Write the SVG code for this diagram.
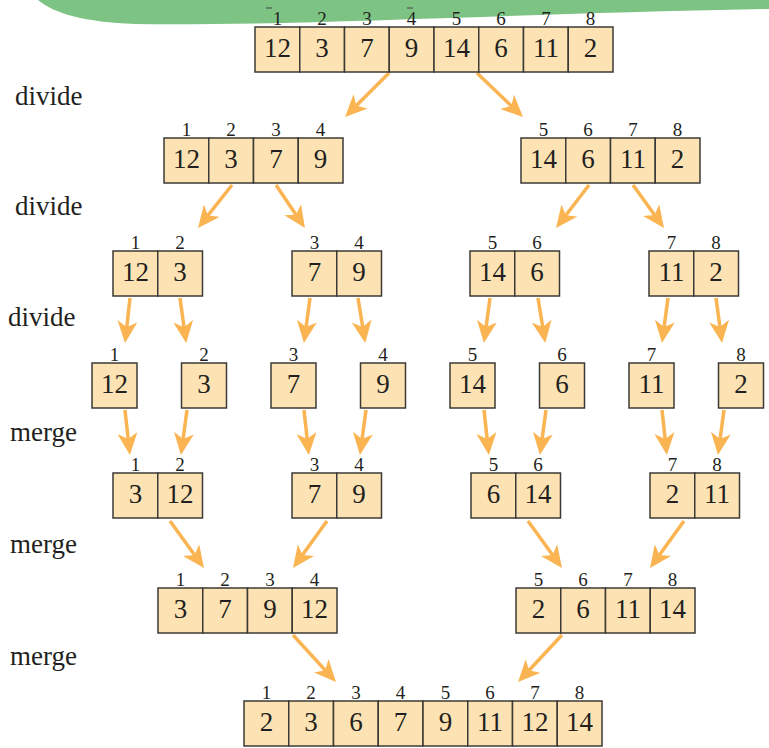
<svg xmlns="http://www.w3.org/2000/svg" width="769" height="748" viewBox="0 0 769 748" font-family="Liberation Serif, DejaVu Serif, Times New Roman, serif">
<style>
.c{fill:#fde3b3;stroke:#3b3a36;stroke-width:1.5}
text{fill:#231f20}
.n{font-size:27px;text-anchor:middle}
.i{font-size:19px;text-anchor:middle}
.s{font-size:27px}
.a{stroke:#fbb452;stroke-width:3.5;fill:none;marker-end:url(#ah)}
</style>
<defs>
<marker id="ah" markerUnits="userSpaceOnUse" markerWidth="22" markerHeight="20" viewBox="0 0 22 20" refX="14" refY="10" orient="auto">
<path d="M0,0 L22,10 L0,20 L6,10 Z" fill="#fbb452"/>
</marker>
</defs>
<rect width="769" height="748" fill="#ffffff"/>
<path d="M38,0 C55,14 85,22 135,24 C300,26 500,14 769,9 L769,0 Z" fill="#7dc383"/>
<line x1="266" y1="8" x2="272" y2="8" stroke="#555" stroke-width="1.2"/>
<line x1="407" y1="8" x2="413" y2="8" stroke="#555" stroke-width="1.2"/>

<g id="labels">
<text class="s" x="15" y="105">divide</text>
<text class="s" x="15" y="215">divide</text>
<text class="s" x="8" y="326">divide</text>
<text class="s" x="10" y="441">merge</text>
<text class="s" x="10" y="553">merge</text>
<text class="s" x="10" y="665">merge</text>
</g>

<g id="connectors">
<line class="a" x1="389" y1="73" x2="350.7" y2="111.3"/>
<line class="a" x1="477" y1="73" x2="517.2" y2="111.5"/>
<line class="a" x1="232" y1="185" x2="203" y2="221.7"/>
<line class="a" x1="276" y1="185" x2="300.5" y2="221.4"/>
<line class="a" x1="589" y1="185" x2="560.9" y2="221.7"/>
<line class="a" x1="633" y1="185" x2="659.3" y2="221.5"/>
<line class="a" x1="130" y1="298" x2="125.9" y2="335.1"/>
<line class="a" x1="180" y1="298" x2="185.1" y2="335.1"/>
<line class="a" x1="310" y1="298" x2="305" y2="335"/>
<line class="a" x1="358" y1="298" x2="364" y2="335"/>
<line class="a" x1="490" y1="298" x2="485" y2="335"/>
<line class="a" x1="538" y1="298" x2="544" y2="335"/>
<line class="a" x1="668" y1="298" x2="663" y2="335"/>
<line class="a" x1="716" y1="298" x2="721" y2="335"/>
<line class="a" x1="125" y1="410" x2="129" y2="447"/>
<line class="a" x1="187" y1="410" x2="182" y2="447"/>
<line class="a" x1="304" y1="410" x2="308" y2="447"/>
<line class="a" x1="366" y1="410" x2="361" y2="447"/>
<line class="a" x1="484" y1="410" x2="488" y2="447"/>
<line class="a" x1="546" y1="410" x2="541" y2="447"/>
<line class="a" x1="662" y1="410" x2="666" y2="447"/>
<line class="a" x1="724" y1="410" x2="719" y2="447"/>
<line class="a" x1="170" y1="521" x2="199.3" y2="561.5"/>
<line class="a" x1="327" y1="521" x2="297.7" y2="561.5"/>
<line class="a" x1="528" y1="521" x2="557.3" y2="561.5"/>
<line class="a" x1="684" y1="521" x2="654.7" y2="561.5"/>
<line class="a" x1="293" y1="635" x2="330.6" y2="676.1"/>
<line class="a" x1="562" y1="635" x2="523.5" y2="676.2"/>
</g>

<g id="row0">
<rect class="c" x="255" y="27" width="44.75" height="45"/><rect class="c" x="299.75" y="27" width="44.75" height="45"/><rect class="c" x="344.5" y="27" width="44.75" height="45"/><rect class="c" x="389.25" y="27" width="44.75" height="45"/><rect class="c" x="434" y="27" width="44.75" height="45"/><rect class="c" x="478.75" y="27" width="44.75" height="45"/><rect class="c" x="523.5" y="27" width="44.75" height="45"/><rect class="c" x="568.25" y="27" width="44.75" height="45"/>
<text class="n" x="277.4" y="56.5">12</text><text class="n" x="322.1" y="56.5">3</text><text class="n" x="366.9" y="56.5">7</text><text class="n" x="411.6" y="56.5">9</text><text class="n" x="456.4" y="56.5">14</text><text class="n" x="501.1" y="56.5">6</text><text class="n" x="545.9" y="56.5">11</text><text class="n" x="590.6" y="56.5">2</text>
<text class="i" x="277.4" y="25">1</text><text class="i" x="322.1" y="25">2</text><text class="i" x="366.9" y="25">3</text><text class="i" x="411.6" y="25">4</text><text class="i" x="456.4" y="25">5</text><text class="i" x="501.1" y="25">6</text><text class="i" x="545.9" y="25">7</text><text class="i" x="590.6" y="25">8</text>
</g>

<g id="row1-left">
<rect class="c" x="164" y="138" width="44.75" height="45"/><rect class="c" x="208.75" y="138" width="44.75" height="45"/><rect class="c" x="253.5" y="138" width="44.75" height="45"/><rect class="c" x="298.25" y="138" width="44.75" height="45"/>
<text class="n" x="186.4" y="167.5">12</text><text class="n" x="231.1" y="167.5">3</text><text class="n" x="275.9" y="167.5">7</text><text class="n" x="320.6" y="167.5">9</text>
<text class="i" x="186.4" y="136">1</text><text class="i" x="231.1" y="136">2</text><text class="i" x="275.9" y="136">3</text><text class="i" x="320.6" y="136">4</text>
</g>
<g id="row1-right">
<rect class="c" x="521" y="138" width="44.75" height="45"/><rect class="c" x="565.75" y="138" width="44.75" height="45"/><rect class="c" x="610.5" y="138" width="44.75" height="45"/><rect class="c" x="655.25" y="138" width="44.75" height="45"/>
<text class="n" x="543.4" y="167.5">14</text><text class="n" x="588.1" y="167.5">6</text><text class="n" x="632.9" y="167.5">11</text><text class="n" x="677.6" y="167.5">2</text>
<text class="i" x="543.4" y="136">5</text><text class="i" x="588.1" y="136">6</text><text class="i" x="632.9" y="136">7</text><text class="i" x="677.6" y="136">8</text>
</g>

<g id="row2-a">
<rect class="c" x="113" y="251" width="44.75" height="45"/><rect class="c" x="157.75" y="251" width="44.75" height="45"/>
<text class="n" x="135.4" y="280.5">12</text><text class="n" x="180.1" y="280.5">3</text>
<text class="i" x="135.4" y="249">1</text><text class="i" x="180.1" y="249">2</text>
</g>
<g id="row2-b">
<rect class="c" x="292" y="251" width="44.75" height="45"/><rect class="c" x="336.75" y="251" width="44.75" height="45"/>
<text class="n" x="314.4" y="280.5">7</text><text class="n" x="359.1" y="280.5">9</text>
<text class="i" x="314.4" y="249">3</text><text class="i" x="359.1" y="249">4</text>
</g>
<g id="row2-c">
<rect class="c" x="470" y="251" width="44.75" height="45"/><rect class="c" x="514.75" y="251" width="44.75" height="45"/>
<text class="n" x="492.4" y="280.5">14</text><text class="n" x="537.1" y="280.5">6</text>
<text class="i" x="492.4" y="249">5</text><text class="i" x="537.1" y="249">6</text>
</g>
<g id="row2-d">
<rect class="c" x="649" y="251" width="44.75" height="45"/><rect class="c" x="693.75" y="251" width="44.75" height="45"/>
<text class="n" x="671.4" y="280.5">11</text><text class="n" x="716.1" y="280.5">2</text>
<text class="i" x="671.4" y="249">7</text><text class="i" x="716.1" y="249">8</text>
</g>

<g id="row3-1"><rect class="c" x="92" y="363" width="45" height="45"/><text class="n" x="114.5" y="392.5">12</text><text class="i" x="114.5" y="361">1</text></g>
<g id="row3-2"><rect class="c" x="181.5" y="363" width="45" height="45"/><text class="n" x="204" y="392.5">3</text><text class="i" x="204" y="361">2</text></g>
<g id="row3-3"><rect class="c" x="271" y="363" width="45" height="45"/><text class="n" x="293.5" y="392.5">7</text><text class="i" x="293.5" y="361">3</text></g>
<g id="row3-4"><rect class="c" x="360.5" y="363" width="45" height="45"/><text class="n" x="383" y="392.5">9</text><text class="i" x="383" y="361">4</text></g>
<g id="row3-5"><rect class="c" x="450" y="363" width="45" height="45"/><text class="n" x="472.5" y="392.5">14</text><text class="i" x="472.5" y="361">5</text></g>
<g id="row3-6"><rect class="c" x="539.5" y="363" width="45" height="45"/><text class="n" x="562" y="392.5">6</text><text class="i" x="562" y="361">6</text></g>
<g id="row3-7"><rect class="c" x="629" y="363" width="45" height="45"/><text class="n" x="651.5" y="392.5">11</text><text class="i" x="651.5" y="361">7</text></g>
<g id="row3-8"><rect class="c" x="718.5" y="363" width="45" height="45"/><text class="n" x="741" y="392.5">2</text><text class="i" x="741" y="361">8</text></g>

<g id="row4-a">
<rect class="c" x="113" y="473" width="44.75" height="45"/><rect class="c" x="157.75" y="473" width="44.75" height="45"/>
<text class="n" x="135.4" y="502.5">3</text><text class="n" x="180.1" y="502.5">12</text>
<text class="i" x="135.4" y="471">1</text><text class="i" x="180.1" y="471">2</text>
</g>
<g id="row4-b">
<rect class="c" x="292" y="473" width="44.75" height="45"/><rect class="c" x="336.75" y="473" width="44.75" height="45"/>
<text class="n" x="314.4" y="502.5">7</text><text class="n" x="359.1" y="502.5">9</text>
<text class="i" x="314.4" y="471">3</text><text class="i" x="359.1" y="471">4</text>
</g>
<g id="row4-c">
<rect class="c" x="471" y="473" width="44.75" height="45"/><rect class="c" x="515.75" y="473" width="44.75" height="45"/>
<text class="n" x="493.4" y="502.5">6</text><text class="n" x="538.1" y="502.5">14</text>
<text class="i" x="493.4" y="471">5</text><text class="i" x="538.1" y="471">6</text>
</g>
<g id="row4-d">
<rect class="c" x="650" y="473" width="44.75" height="45"/><rect class="c" x="694.75" y="473" width="44.75" height="45"/>
<text class="n" x="672.4" y="502.5">2</text><text class="n" x="717.1" y="502.5">11</text>
<text class="i" x="672.4" y="471">7</text><text class="i" x="717.1" y="471">8</text>
</g>

<g id="row5-left">
<rect class="c" x="158" y="588" width="44.75" height="45"/><rect class="c" x="202.75" y="588" width="44.75" height="45"/><rect class="c" x="247.5" y="588" width="44.75" height="45"/><rect class="c" x="292.25" y="588" width="44.75" height="45"/>
<text class="n" x="180.4" y="617.5">3</text><text class="n" x="225.1" y="617.5">7</text><text class="n" x="269.9" y="617.5">9</text><text class="n" x="314.6" y="617.5">12</text>
<text class="i" x="180.4" y="586">1</text><text class="i" x="225.1" y="586">2</text><text class="i" x="269.9" y="586">3</text><text class="i" x="314.6" y="586">4</text>
</g>
<g id="row5-right">
<rect class="c" x="516" y="588" width="44.75" height="45"/><rect class="c" x="560.75" y="588" width="44.75" height="45"/><rect class="c" x="605.5" y="588" width="44.75" height="45"/><rect class="c" x="650.25" y="588" width="44.75" height="45"/>
<text class="n" x="538.4" y="617.5">2</text><text class="n" x="583.1" y="617.5">6</text><text class="n" x="627.9" y="617.5">11</text><text class="n" x="672.6" y="617.5">14</text>
<text class="i" x="538.4" y="586">5</text><text class="i" x="583.1" y="586">6</text><text class="i" x="627.9" y="586">7</text><text class="i" x="672.6" y="586">8</text>
</g>

<g id="row6">
<rect class="c" x="244" y="701" width="44.75" height="45"/><rect class="c" x="288.75" y="701" width="44.75" height="45"/><rect class="c" x="333.5" y="701" width="44.75" height="45"/><rect class="c" x="378.25" y="701" width="44.75" height="45"/><rect class="c" x="423" y="701" width="44.75" height="45"/><rect class="c" x="467.75" y="701" width="44.75" height="45"/><rect class="c" x="512.5" y="701" width="44.75" height="45"/><rect class="c" x="557.25" y="701" width="44.75" height="45"/>
<text class="n" x="266.4" y="730.5">2</text><text class="n" x="311.1" y="730.5">3</text><text class="n" x="355.9" y="730.5">6</text><text class="n" x="400.6" y="730.5">7</text><text class="n" x="445.4" y="730.5">9</text><text class="n" x="490.1" y="730.5">11</text><text class="n" x="534.9" y="730.5">12</text><text class="n" x="579.6" y="730.5">14</text>
<text class="i" x="266.4" y="699">1</text><text class="i" x="311.1" y="699">2</text><text class="i" x="355.9" y="699">3</text><text class="i" x="400.6" y="699">4</text><text class="i" x="445.4" y="699">5</text><text class="i" x="490.1" y="699">6</text><text class="i" x="534.9" y="699">7</text><text class="i" x="579.6" y="699">8</text>
</g>
</svg>
